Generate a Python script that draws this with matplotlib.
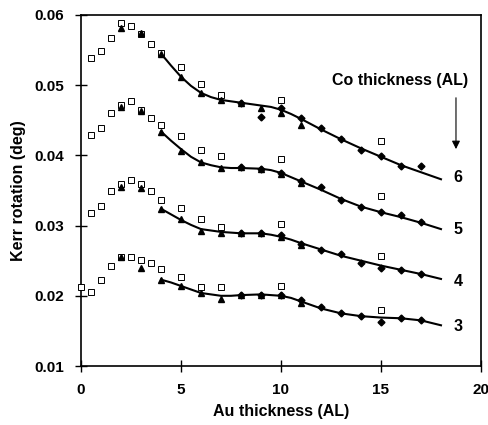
import numpy as np
import matplotlib
matplotlib.use('Agg')
import matplotlib.pyplot as plt

plt.rcParams['font.family'] = ['Liberation Sans', 'DejaVu Sans']
plt.rcParams['font.weight'] = 'bold'

# open squares (same x for every Co thickness)
sq_x = [0.5, 1, 1.5, 2, 2.5, 3, 3.5, 4, 5, 6, 7, 10, 15]
sq_6 = [0.0539, 0.0549, 0.0567, 0.0588, 0.0584, 0.0573, 0.0559, 0.0546, 0.0526, 0.0502, 0.0486, 0.0479, 0.0420]
sq_5 = [0.0429, 0.0439, 0.0460, 0.0472, 0.0477, 0.0465, 0.0453, 0.0443, 0.0428, 0.0408, 0.0399, 0.0395, 0.0342]
sq_4 = [0.0318, 0.0328, 0.0349, 0.0359, 0.0365, 0.0359, 0.0349, 0.0336, 0.0325, 0.0309, 0.0298, 0.0302, 0.0257]
sq_3 = [0.0205, 0.0222, 0.0242, 0.0255, 0.0255, 0.0251, 0.0247, 0.0238, 0.0227, 0.0213, 0.0212, 0.0214, 0.0180]
sq0_x = [0]
sq0_y = [0.0212]

# filled triangles
tri_x = [2, 3, 4, 5, 6, 7, 8, 9, 10, 11]
tri_6 = [0.0582, 0.0574, 0.0545, 0.0512, 0.0489, 0.0479, 0.0475, 0.0467, 0.0460, 0.0443]
tri_5 = [0.0469, 0.0463, 0.0433, 0.0406, 0.0391, 0.0382, 0.0383, 0.0381, 0.0373, 0.0361]
tri_4 = [0.0355, 0.0354, 0.0324, 0.0309, 0.0292, 0.0289, 0.0289, 0.0289, 0.0284, 0.0272]
tri_3 = [0.0255, 0.0240, 0.0222, 0.0214, 0.0204, 0.0196, 0.0201, 0.0201, 0.0201, 0.0190]

# filled diamonds
dia_x = [8, 9, 10, 11, 12, 13, 14, 15, 16, 17]
dia_6 = [0.0475, 0.0455, 0.0467, 0.0453, 0.0439, 0.0423, 0.0408, 0.0399, 0.0385, 0.0385]
dia_5 = [0.0383, 0.0381, 0.0375, 0.0363, 0.0355, 0.0336, 0.0327, 0.0319, 0.0315, 0.0305]
dia_4 = [0.0289, 0.0289, 0.0286, 0.0274, 0.0265, 0.0260, 0.0247, 0.0240, 0.0237, 0.0231]
dia_3 = [0.0201, 0.0201, 0.0201, 0.0194, 0.0184, 0.0176, 0.0171, 0.0163, 0.0168, 0.0166]

# fit curves
fit_x = [4, 4.5, 5, 5.5, 6, 6.5, 7, 7.5, 8, 9, 9.5, 10, 10.5, 11, 12, 13, 14, 15, 16, 17, 18]
fit_6 = [0.0545, 0.0528, 0.0512, 0.0499, 0.0489, 0.0483, 0.0479, 0.0477, 0.0475, 0.0471, 0.0469,
         0.0465, 0.0459, 0.0452, 0.0437, 0.0423, 0.0410, 0.0398, 0.0386, 0.0376, 0.0366]
fit_5 = [0.0434, 0.0421, 0.0409, 0.0398, 0.0390, 0.0386, 0.0383, 0.0382, 0.0382, 0.0381, 0.0379,
         0.0375, 0.0369, 0.0363, 0.0351, 0.0338, 0.0327, 0.0319, 0.0312, 0.0304, 0.0295]
fit_4 = [0.0324, 0.0316, 0.0308, 0.0301, 0.0295, 0.0293, 0.0291, 0.0290, 0.0289, 0.0289, 0.0287,
         0.0284, 0.0280, 0.0275, 0.0266, 0.0257, 0.0250, 0.0243, 0.0237, 0.0231, 0.0224]
fit_3 = [0.0223, 0.0219, 0.0214, 0.0209, 0.0204, 0.0202, 0.0200, 0.0200, 0.0201, 0.0202, 0.0201,
         0.0200, 0.0197, 0.0192, 0.0182, 0.0175, 0.0171, 0.0169, 0.0168, 0.0165, 0.0158]

co_labels = ['6', '5', '4', '3']
label_y = [0.0369, 0.0295, 0.0221, 0.0156]

fig = plt.figure(figsize=(4.89, 4.25), dpi=100)
ax = fig.add_axes([0.1656, 0.1388, 0.818, 0.826])

for fy in [fit_6, fit_5, fit_4, fit_3]:
    ax.plot(fit_x, fy, color='black', linewidth=1.5, zorder=2)
for sy in [sq_6, sq_5, sq_4, sq_3]:
    ax.plot(sq_x, sy, 's', markersize=5, markerfacecolor='white',
            markeredgecolor='black', markeredgewidth=0.7, zorder=3)
ax.plot(sq0_x, sq0_y, 's', markersize=5, markerfacecolor='white',
        markeredgecolor='black', markeredgewidth=0.7, zorder=4, clip_on=False)
for ty in [tri_6, tri_5, tri_4, tri_3]:
    ax.plot(tri_x, ty, '^', markersize=5, color='black', zorder=4)
for dy in [dia_6, dia_5, dia_4, dia_3]:
    ax.plot(dia_x, dy, 'D', markersize=3.5, color='black', zorder=4)

for lab, ly in zip(co_labels, label_y):
    ax.text(18.85, ly, lab, fontsize=11.5, fontweight='bold', ha='center', va='center')

ax.text(15.95, 0.0507, 'Co thickness (AL)', fontsize=11.5, fontweight='bold',
        ha='center', va='center')
ax.annotate('', xy=(18.75, 0.0405), xytext=(18.75, 0.0486),
            arrowprops=dict(arrowstyle='-|>', color='black', lw=0.8,
                            mutation_scale=12))

ax.set_xlim(0, 20)
ax.set_ylim(0.01, 0.06)
ax.set_xticks([0, 5, 10, 15, 20])
ax.set_yticks([0.01, 0.02, 0.03, 0.04, 0.05, 0.06])
ax.set_yticklabels(['0.01', '0.02', '0.03', '0.04', '0.05', '0.06'])
ax.tick_params(direction='inout', length=8, width=1, labelsize=11, pad=8)
for lbl in ax.get_xticklabels() + ax.get_yticklabels():
    lbl.set_fontweight('bold')
for sp in ax.spines.values():
    sp.set_linewidth(1.2)

ax.set_xlabel('Au thickness (AL)', fontsize=11.5, fontweight='bold', labelpad=5)
ax.set_ylabel('Kerr rotation (deg)', fontsize=11.5, fontweight='bold', labelpad=6)

fig.savefig('out.png', dpi=100)
